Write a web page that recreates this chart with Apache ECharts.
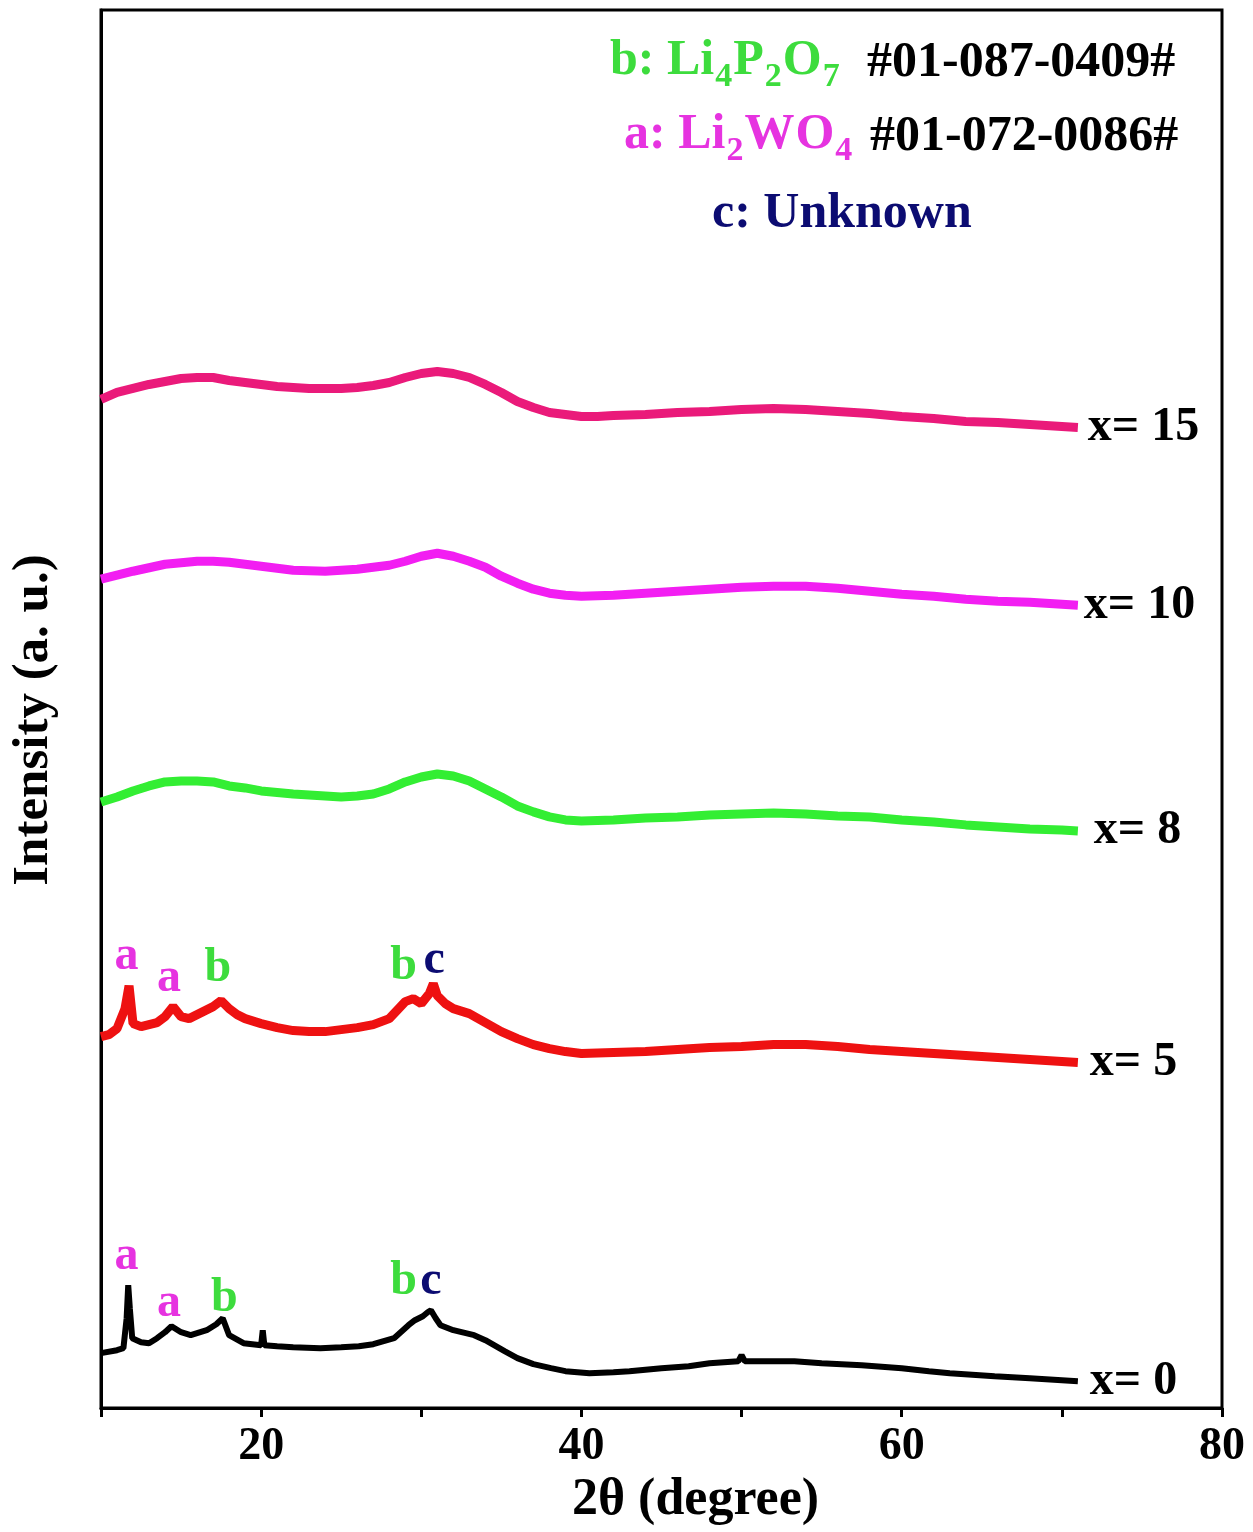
<!DOCTYPE html>
<html><head><meta charset="utf-8">
<script src="https://cdn.jsdelivr.net/npm/echarts/dist/echarts.min.js"></script>
<style>html,body{margin:0;padding:0;background:#fff}#c{width:1253px;height:1532px}</style>
</head><body><div id="c"></div>
<script>
// ---- data (2θ in degrees, intensity in a.u., curves already stacked with offsets) ----
const seriesNames = ['x= 0', 'x= 5', 'x= 8', 'x= 10', 'x= 15'];
const xTickLabels = [20, 40, 60, 80];

const curveX0 = [[10,55],[11,58],[11.4,60],[11.6,90],[11.7,123],[11.8,100],[11.95,70],[12.5,66],[13,65],[13.5,70],[14,76],[14.4,82],[15,76],[15.6,73],[16.6,78],[17.2,84],[17.6,90],[18,73],[18.9,65],[20,63],[20.1,78],[20.2,63],[21,62],[22,61],[23.7,60],[25,61],[26.1,62],[27,64],[28.3,70],[29.2,83],[29.6,88],[30.1,92],[30.4,96],[30.6,98],[30.9,90],[31.2,83],[32,78],[33.3,73],[34,68],[35.2,57],[36,50],[37,44],[38.1,40],[39,37],[40.5,35],[42,36],[43,37],[45,40],[46.7,42],[48,45],[49.8,47],[50,53],[50.2,47],[52,47],[53.3,47],[55,45],[57.5,43],[60,40],[61.7,37],[63,35],[65.8,32],[68,30],[70,28],[71,27]];

const curveX5 = [[10,372],[10.5,374],[11,380],[11.5,400],[11.75,423],[12,385],[12.5,382],[13,384],[13.5,386],[14,392],[14.5,402],[15,392],[15.5,390],[16,394],[16.5,398],[17,402],[17.5,408],[18,400],[18.5,394],[19,390],[20,385],[21,381],[22,378],[23,377],[24,377],[25,379],[26,381],[27,384],[28,390],[29,407],[29.5,410],[30,405],[30.5,415],[30.75,425],[31,413],[31.5,405],[32,400],[33,395],[34,386],[35,377],[36,370],[37,364],[38,360],[39,357],[40,355],[42,356],[44,357],[46,359],[48,361],[50,362],[52,364],[54,364],[56,362],[58,359],[60,357],[62,355],[64,353],[66,351],[68,349],[70,347],[71,346]];

const curveX8 = [[10,607],[11,612],[12,618],[13,623],[14,627],[15,628],[16,628],[17,627],[18,623],[19,621],[20,618],[22,615],[24,613],[25,612],[26,613],[27,615],[28,620],[29,627],[30,632],[31,635],[32,633],[33,628],[34,620],[35,612],[36,603],[37,597],[38,592],[39,589],[40,588],[42,589],[44,591],[46,592],[48,594],[50,595],[52,596],[54,595],[56,593],[58,592],[60,589],[62,587],[64,584],[66,582],[68,580],[70,579],[71,578]];

const curveX10 = [[10,830],[12,838],[14,845],[16,848],[17,848],[18,847],[20,843],[22,839],[24,838],[26,840],[28,844],[29,848],[30,853],[31,856],[32,853],[33,848],[34,842],[35,833],[36,826],[37,820],[38,816],[39,814],[40,813],[42,814],[44,816],[46,818],[48,820],[50,822],[52,823],[54,823],[56,821],[58,818],[60,815],[62,813],[64,810],[66,808],[68,807],[70,805],[71,804]];

const curveX15 = [[10,1010],[11,1017],[12,1021],[13,1025],[14,1028],[15,1031],[16,1032],[17,1032],[18,1029],[19,1027],[20,1025],[21,1023],[22,1022],[23,1021],[24,1021],[25,1021],[26,1022],[27,1024],[28,1027],[29,1032],[30,1036],[31,1038],[32,1036],[33,1032],[34,1025],[35,1017],[36,1008],[37,1002],[38,997],[39,995],[40,993],[41,993],[42,994],[44,995],[46,997],[48,998],[50,1000],[52,1001],[54,1000],[56,998],[58,996],[60,993],[62,991],[64,988],[66,987],[68,985],[70,983],[71,982]];

// peak markers: [2θ, intensity position, phase letter]
const peaksX5 = [[11.6,452,'a'],[14.25,430,'a'],[17.3,440,'b'],[28.9,442,'b'],[30.8,448,'c']];
const peaksX0 = [[11.6,152,'a'],[14.25,105,'a'],[17.7,110,'b'],[28.9,127,'b'],[30.6,127,'c']];

// phase legend text pieces: [text, isSubscript]
const phaseB = [['b: Li', false], ['4', true], ['P', false], ['2', true], ['O', false], ['7', true]];
const phaseA = [['a: Li', false], ['2', true], ['W', false], ['O', false], ['4', true]];
const cardB = '#01-087-0409#';
const cardA = '#01-072-0086#';
const phaseC = 'c: Unknown';

// ---- styling ----
const FONT = "'Liberation Serif','Times New Roman',serif";
const curveColors = ['#000000', '#ee1111', '#33ee33', '#f21ef2', '#ea1a7a'];
const letterColors = { a: '#e633e0', b: '#3ddc3d', c: '#0c0c72' };
const curves = [curveX0, curveX5, curveX8, curveX10, curveX15];
const labelDist = [12, 12, 16, 6, 10];
const MAIN_FONT = "bold 50px 'Liberation Serif', serif";
const SUB_FONT = "bold 34px 'Liberation Serif', serif";

const measureCtx = document.createElement('canvas').getContext('2d');
function textWidth(t, font) { measureCtx.font = font; return measureCtx.measureText(t).width; }

// builds a formula as a row of text pieces; subscripts sit lower and smaller
function formula(pieces, left, top, color) {
  const out = [];
  let x = left;
  pieces.forEach(p => {
    const font = p[1] ? SUB_FONT : MAIN_FONT;
    out.push({
      type: 'text', x: x, y: p[1] ? top + 24 : top,
      style: { text: p[0], fill: color, font: font, textVerticalAlign: 'top' }
    });
    x += textWidth(p[0], font) + 1;
  });
  return out;
}

function peakMarks(peaks) {
  return {
    silent: true,
    symbol: 'circle',
    symbolSize: 0,
    label: { show: true, position: 'inside', fontFamily: FONT, fontWeight: 'bold', fontSize: 48 },
    data: peaks.map(p => ({
      coord: [p[0], p[1]],
      value: p[2],
      label: { formatter: p[2], color: letterColors[p[2]] }
    }))
  };
}

const series = curves.map((d, i) => ({
  name: seriesNames[i],
  type: 'line',
  data: d,
  showSymbol: false,
  symbol: 'none',
  smooth: false,
  z: 3,
  lineStyle: { color: curveColors[i], width: i === 0 ? 6 : 9 },
  endLabel: {
    show: true,
    formatter: seriesNames[i],
    color: '#000',
    fontFamily: FONT,
    fontWeight: 'bold',
    fontSize: 48,
    distance: labelDist[i]
  },
  markPoint: i === 0 ? peakMarks(peaksX0) : (i === 1 ? peakMarks(peaksX5) : undefined)
}));

const chart = echarts.init(document.getElementById('c'), null, { renderer: 'canvas' });

const graphics = []
  .concat(formula(phaseB, 610, 36, '#3ddc3d'))
  .concat(formula(phaseA, 624, 110, '#e633e0'))
  .concat([
    { type: 'text', x: 867, y: 38, style: { text: cardB, fill: '#000', font: MAIN_FONT, textVerticalAlign: 'top' } },
    { type: 'text', x: 870, y: 112, style: { text: cardA, fill: '#000', font: MAIN_FONT, textVerticalAlign: 'top' } },
    { type: 'text', x: 712, y: 189, style: { text: phaseC, fill: '#0c0c72', font: MAIN_FONT, textVerticalAlign: 'top' } }
  ]);

chart.setOption({
  animation: false,
  backgroundColor: '#ffffff',
  grid: { left: 100, right: 31, top: 10, bottom: 122, show: true, borderColor: '#000', borderWidth: 3 },
  xAxis: {
    type: 'value',
    min: 10, max: 80, interval: 10,
    name: '2θ (degree)',
    nameLocation: 'middle',
    nameGap: 66,
    nameTextStyle: { fontFamily: FONT, fontWeight: 'bold', fontSize: 52, color: '#000', padding: [0, 0, 0, 68] },
    axisLine: { show: true, lineStyle: { color: '#000', width: 3 } },
    axisTick: { show: true, inside: false, length: 9, lineStyle: { color: '#000', width: 3 } },
    axisLabel: {
      margin: 16, color: '#000', fontFamily: FONT, fontWeight: 'bold', fontSize: 46,
      formatter: v => (xTickLabels.indexOf(v) >= 0 ? String(v) : '')
    },
    splitLine: { show: false }
  },
  yAxis: {
    type: 'value',
    min: 0, max: 1400,
    name: 'Intensity (a. u.)',
    nameLocation: 'middle',
    nameGap: 42,
    nameTextStyle: { fontFamily: FONT, fontWeight: 'bold', fontSize: 51, color: '#000', padding: [0, 22, 0, 0] },
    axisLine: { show: true, lineStyle: { color: '#000', width: 3 } },
    axisTick: { show: false },
    axisLabel: { show: false },
    splitLine: { show: false }
  },
  graphic: graphics,
  series: series
});
</script>
</body></html>
